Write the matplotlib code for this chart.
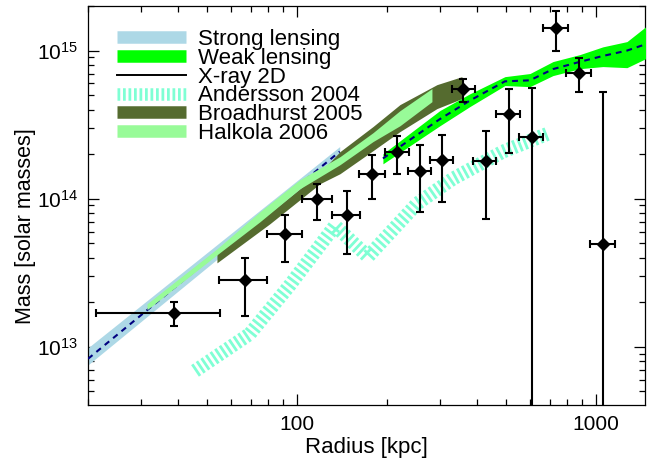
import matplotlib
matplotlib.use('Agg')
import matplotlib.pyplot as plt
import matplotlib.ticker as ticker
from matplotlib.lines import Line2D

plt.rcParams['font.family'] = ['Liberation Sans', 'DejaVu Sans']

# X-ray 2D data points (radius kpc, mass in solar masses)
xray_r = [38.8, 67.0, 91.2, 116.4, 146.6, 178.7, 216.6, 257.6, 306.0, 359.6, 427.6, 511.8, 609.5, 732.6, 879.0, 1052.0]
xray_m = [1.70e13, 2.84e13, 5.74e13, 9.9e13, 7.71e13, 1.475e14, 2.07e14, 1.55e14, 1.82e14, 5.48e14, 1.79e14, 3.75e14, 2.61e14, 1.42e15, 7.1e14, 4.97e13]
xray_r_lo = [21.2, 55.0, 79.2, 103.7, 131.2, 161.8, 197.0, 235.6, 278.6, 330.8, 388.8, 463.0, 554.0, 663.0, 795.0, 955.0]
xray_r_hi = [55.3, 79.6, 104.2, 131.2, 162.4, 197.0, 237.0, 280.0, 333.6, 392.7, 464.6, 557.0, 666.5, 804.0, 962.6, 1155.0]
xray_m_lo = [1.39e13, 1.62e13, 3.73e13, 7.13e13, 4.21e13, 1.0e14, 1.475e14, 8.13e13, 9.5e13, 4.5e14, 7.33e13, 2.05e14, 1e12, 9.9e14, 5.26e14, 1e12]
xray_m_hi = [2.0e13, 3.97e13, 7.71e13, 1.26e14, 1.13e14, 1.96e14, 2.64e14, 2.29e14, 2.71e14, 6.47e14, 2.85e14, 5.48e14, 5.6e14, 1.85e15, 8.94e14, 5.26e14]

# strong lensing band
sl_r = [20, 139]
sl_lo = [7.55e12, 1.86e14]
sl_hi = [9.85e12, 2.25e14]

# weak lensing band
wl_r = [193.9, 300.8, 378.9, 496.3, 601.6, 718.3, 884.3, 1055, 1270, 1469, 1600]
wl_lo = [1.72e14, 3.11e14, 4.19e14, 5.81e14, 5.71e14, 6.78e14, 7.55e14, 7.8e14, 7.67e14, 8.83e14, 9.5e14]
wl_hi = [2.01e14, 3.94e14, 5.11e14, 6.67e14, 7.0e14, 8.43e14, 9.4e14, 1.06e15, 1.15e15, 1.45e15, 1.6e15]

# dashed model curves
fit_in_r = [20, 139]
fit_in_m = [8.3e12, 2.08e14]
fit_out_r = [193.9, 300.8, 378.9, 496.3, 601.6, 718.3, 884.3, 1055, 1270, 1440]
fit_out_m = [1.87e14, 3.45e14, 4.6e14, 6.2e14, 6.3e14, 7.5e14, 8.4e14, 9.2e14, 1.0e15, 1.09e15]

# Andersson 2004
and_r = [45.6, 69.6, 94.8, 134.0, 172.8, 251.9, 332.4, 488.7, 691.0]
and_m = [6.88e12, 1.224e13, 2.62e13, 6.57e13, 4.06e13, 9.25e13, 1.365e14, 2.08e14, 2.75e14]

# Broadhurst 2005
bh_r = [54.0, 81.2, 119.4, 139.3, 179.6, 221.1, 293.9, 356.3]
bh_lo = [3.69e13, 6.78e13, 1.263e14, 1.475e14, 2.11e14, 2.84e14, 4.06e14, 4.74e14]
bh_hi = [4.32e13, 8.04e13, 1.499e14, 2.08e14, 3.07e14, 4.32e14, 5.89e14, 6.67e14]

# Halkola 2006
hk_r = [31.5, 54.0, 75.2, 102.3, 139.3, 179.6, 221.1, 282.8]
hk_lo = [1.778e13, 4.18e13, 6.99e13, 1.168e14, 1.697e14, 2.43e14, 3.11e14, 4.52e14]
hk_hi = [1.952e13, 4.59e13, 8.17e13, 1.344e14, 1.922e14, 2.79e14, 3.93e14, 5.54e14]

fig = plt.figure(figsize=(6.47, 4.62), dpi=100)
ax = fig.add_axes([0.136, 0.1234, 0.861, 0.8636])
ax.set_xscale('log')
ax.set_yscale('log')

and_dash = (0.2, 0.2)
ax.plot(and_r, and_m, color='aquamarine', lw=10, dashes=and_dash, dash_capstyle='butt', zorder=1)
ax.fill_between(sl_r, sl_lo, sl_hi, color='lightblue', lw=0, zorder=2)
ax.plot(fit_in_r, fit_in_m, color='navy', lw=1.5, dashes=(2.8, 2.4), zorder=3)
ax.fill_between(bh_r, bh_lo, bh_hi, color='darkolivegreen', lw=0, zorder=4)
ax.fill_between(hk_r, hk_lo, hk_hi, color='palegreen', lw=0, zorder=5)
ax.fill_between(wl_r, wl_lo, wl_hi, color='lime', lw=0, zorder=6)
ax.plot(fit_out_r, fit_out_m, color='navy', lw=1.5, dashes=(2.8, 2.4), zorder=7)

xerr = [[a - b for a, b in zip(xray_r, xray_r_lo)], [b - a for a, b in zip(xray_r, xray_r_hi)]]
yerr = [[a - b for a, b in zip(xray_m, xray_m_lo)], [b - a for a, b in zip(xray_m, xray_m_hi)]]
ax.errorbar(xray_r, xray_m, xerr=xerr, yerr=yerr, fmt='D', color='black', ms=6,
            elinewidth=1.5, capsize=2.7, capthick=1.5, zorder=8)

ax.set_xlim(20, 1460)
ax.set_ylim(4.05e12, 2.0e15)
ax.xaxis.set_major_formatter(ticker.FormatStrFormatter('%d'))

ax.tick_params(which='both', direction='in', top=True, right=True, labelsize=15)
ax.tick_params(which='major', length=8, width=0.9, pad=7)
ax.tick_params(which='minor', length=4.5, width=0.9)
for s in ax.spines.values():
    s.set_linewidth(0.9)

ax.set_xlabel('Radius [kpc]', fontsize=16)
ax.set_ylabel('Mass [solar masses]', fontsize=15.5)
ax.xaxis.set_label_coords(0.5, -0.08)
ax.yaxis.set_label_coords(-0.093, 0.449)

handles = [
    Line2D([], [], color='lightblue', lw=9, solid_capstyle='butt'),
    Line2D([], [], color='lime', lw=9, solid_capstyle='butt'),
    Line2D([], [], color='black', lw=1.4),
    Line2D([], [], color='aquamarine', lw=9, dashes=(0.22, 0.22), dash_capstyle='butt'),
    Line2D([], [], color='darkolivegreen', lw=9, solid_capstyle='butt'),
    Line2D([], [], color='palegreen', lw=9, solid_capstyle='butt'),
]
labels = ['Strong lensing', 'Weak lensing', 'X-ray 2D', 'Andersson 2004', 'Broadhurst 2005', 'Halkola 2006']
ax.legend(handles, labels, loc='upper left', bbox_to_anchor=(0.052, 0.942), frameon=False,
          fontsize=16, labelspacing=-0.1, handlelength=3.1, handletextpad=0.55,
          borderpad=0, borderaxespad=0)

plt.savefig('out.png', dpi=100)
